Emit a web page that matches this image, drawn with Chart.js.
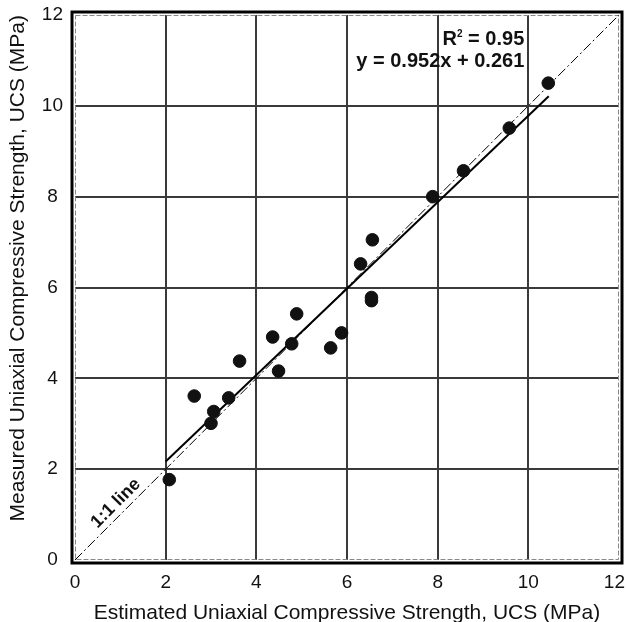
<!DOCTYPE html>
<html><head><meta charset="utf-8">
<script src="https://cdn.jsdelivr.net/npm/chart.js@4/dist/chart.umd.min.js"></script>
<style>html,body{margin:0;padding:0;background:#fff}#wrap{width:627px;height:622px}</style>
</head><body><div id="wrap"><canvas id="c" width="627" height="622"></canvas></div>
<script>
const estimatedUCS = [2.08, 2.63, 3.0, 3.06, 3.39, 3.63, 4.36, 4.49, 4.78, 4.89, 5.64, 5.88, 6.3, 6.56, 6.54, 6.54, 7.89, 8.57, 9.58, 10.44];
const measuredUCS  = [1.77, 3.61, 3.01, 3.27, 3.57, 4.38, 4.91, 4.16, 4.76, 5.42, 4.67, 5.0, 6.52, 7.05, 5.71, 5.78, 8.0, 8.57, 9.51, 10.5];
const regressionX = [2.0, 10.45];
const regressionY = [2.17, 10.21];
const oneToOneX = [0, 12];
const oneToOneY = [0, 12];
const tickValues = [0, 2, 4, 6, 8, 10, 12];
const annotationLines = ["R\u00B2 = 0.95", "y = 0.952x + 0.261"];
const lineLabel = "1:1 line";

const FONT = "'Liberation Sans', Arial, Helvetica, sans-serif";
Chart.defaults.font.family = FONT;
Chart.defaults.color = '#111';

const pts = estimatedUCS.map((x, i) => ({x, y: measuredUCS[i]}));
const reg = regressionX.map((x, i) => ({x, y: regressionY[i]}));
const one = oneToOneX.map((x, i) => ({x, y: oneToOneY[i]}));

const decor = {
  id: 'decor',
  beforeDatasetsDraw(chart) {
    const {ctx, chartArea: a} = chart;
    ctx.save();
    ctx.strokeStyle = '#888';
    ctx.lineWidth = 1;
    ctx.setLineDash([5, 2]);
    ctx.strokeRect(a.left + 0.5, a.top + 0.5, a.right - a.left - 1, a.bottom - a.top - 1);
    ctx.restore();
  },
  afterDraw(chart) {
    const {ctx, chartArea: a, scales} = chart;
    const xs = scales.x, ys = scales.y;
    ctx.save();
    ctx.strokeStyle = '#000';
    ctx.lineWidth = 3;
    ctx.strokeRect(a.left - 3, a.top - 3, a.right - a.left + 6, a.bottom - a.top + 6);
    // last x tick label, kept inside the canvas
    ctx.fillStyle = '#111';
    ctx.font = '19px ' + FONT;
    ctx.textAlign = 'right';
    ctx.textBaseline = 'middle';
    const last = tickValues[tickValues.length - 1];
    ctx.fillText(String(last), Math.min(xs.getPixelForValue(last) + 10, chart.width - 2), 583);
    // annotation
    ctx.font = 'bold 20px ' + FONT;
    const rx = xs.getPixelForValue(9.91);
    const r2rest = " = 0.95";
    const wRest = ctx.measureText(r2rest).width;
    const y1 = ys.getPixelForValue(11.45);
    ctx.fillText(r2rest, rx, y1);
    ctx.font = 'bold 10px ' + FONT;
    const w2 = ctx.measureText("2").width;
    ctx.fillText("2", rx - wRest, y1 - 6);
    ctx.font = 'bold 20px ' + FONT;
    ctx.fillText("R", rx - wRest - w2, y1);
    ctx.fillText(annotationLines[1], rx, ys.getPixelForValue(10.97));
    // 1:1 line label
    ctx.save();
    ctx.translate(xs.getPixelForValue(0.9), ys.getPixelForValue(1.25));
    ctx.rotate(-Math.PI / 4);
    ctx.textAlign = 'center';
    ctx.font = 'bold 18px ' + FONT;
    ctx.fillText(lineLabel, 0, 0);
    ctx.restore();
    ctx.restore();
  }
};

const gridColor = ctx => (ctx.tick && (ctx.tick.value === 0 || ctx.tick.value === 12)) ? 'rgba(0,0,0,0)' : '#3a3a3a';

new Chart(document.getElementById('c'), {
  type: 'scatter',
  data: {
    datasets: [
      {label: '1:1', type: 'line', data: one, borderColor: '#000', borderWidth: 1, borderDash: [10, 3, 2, 3], pointRadius: 0, fill: false, order: 3},
      {label: 'fit', type: 'line', data: reg, borderColor: '#000', borderWidth: 2, pointRadius: 0, fill: false, order: 2},
      {label: 'UCS', data: pts, backgroundColor: '#111', borderColor: '#111', pointRadius: 6.3, pointHoverRadius: 6.3, order: 1}
    ]
  },
  options: {
    responsive: false,
    animation: false,
    devicePixelRatio: 1,
    layout: {padding: {top: 15, right: 8, left: 0, bottom: 0}},
    plugins: {legend: {display: false}, tooltip: {enabled: false}},
    scales: {
      x: {
        type: 'linear', min: 0, max: 12,
        afterBuildTicks: s => { s.ticks = tickValues.map(v => ({value: v})); },
        afterFit: s => { s.height = 62; s.paddingRight = 0; s.paddingLeft = 0; },
        grid: {color: gridColor, lineWidth: 2, drawTicks: false},
        border: {display: false},
        ticks: {padding: 11, font: {size: 19}, color: '#111', callback: v => (v === 12 ? '' : String(v))},
        title: {display: true, text: 'Estimated Uniaxial Compressive Strength, UCS (MPa)', font: {size: 21}, color: '#111', padding: {top: 0, bottom: -4}}
      },
      y: {
        type: 'linear', min: 0, max: 12,
        afterBuildTicks: s => { s.ticks = tickValues.map(v => ({value: v})); },
        afterFit: s => { s.width = 75; s.paddingTop = 0; s.paddingBottom = 0; },
        grid: {color: gridColor, lineWidth: 2, drawTicks: false},
        border: {display: false},
        ticks: {padding: 12, crossAlign: 'center', font: {size: 19}, color: '#111'},
        title: {display: true, align: 'end', text: 'Measured Uniaxial Compressive Strength, UCS (MPa)', font: {size: 21}, color: '#111', padding: {top: 6, bottom: 0}}
      }
    }
  },
  plugins: [decor]
});
</script></body></html>
